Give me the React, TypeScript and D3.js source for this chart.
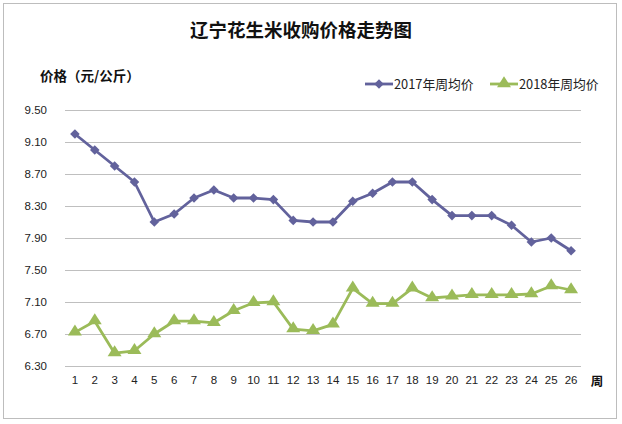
import React, { useEffect, useRef } from "react";
import * as d3 from "d3";

// week numbers 1..26
const weeks = [
  "1", "2", "3", "4", "5", "6", "7", "8", "9", "10", "11", "12", "13",
  "14", "15", "16", "17", "18", "19", "20", "21", "22", "23", "24", "25", "26",
];

const price2017 = [
  9.2, 9.0, 8.8, 8.6, 8.1, 8.2, 8.4, 8.5, 8.4, 8.4, 8.38, 8.12, 8.1,
  8.1, 8.36, 8.46, 8.6, 8.6, 8.38, 8.18, 8.18, 8.18, 8.06, 7.85, 7.9, 7.74,
];

const price2018 = [
  6.72, 6.86, 6.46, 6.49, 6.7, 6.86, 6.86, 6.84, 6.99, 7.09, 7.1, 6.76, 6.74,
  6.82, 7.27, 7.08, 7.08, 7.27, 7.15, 7.17, 7.19, 7.19, 7.19, 7.2, 7.3, 7.25,
];

const yTicks = [6.3, 6.7, 7.1, 7.5, 7.9, 8.3, 8.7, 9.1, 9.5];

const seriesNames = ["2017年周均价", "2018年周均价"];
const seriesColors = ["#62629c", "#9bbb59"];

const App: React.FC = () => {
  const ref = useRef<SVGSVGElement>(null);

  useEffect(() => {
    const svg = d3.select(ref.current);
    svg.selectAll("*").remove();

    const plot = { left: 65, right: 581, top: 110, bottom: 366 };

    svg
      .append("rect")
      .attr("x", 3.5)
      .attr("y", 3.5)
      .attr("width", 613)
      .attr("height", 415)
      .attr("fill", "#fff")
      .attr("stroke", "#bdbdbd")
      .attr("stroke-width", 1);

    const x = d3
      .scaleBand()
      .domain(weeks)
      .range([plot.left, plot.right]);

    const y = d3
      .scaleLinear()
      .domain([6.3, 9.5])
      .range([plot.bottom, plot.top]);

    const cx = (d: string) => x(d)! + x.bandwidth() / 2;

    // gridlines + y labels
    const yAxis = svg
      .append("g")
      .attr("transform", `translate(${plot.left},0)`)
      .call(
        d3
          .axisLeft(y)
          .tickValues(yTicks)
          .tickSize(-(plot.right - plot.left))
          .tickPadding(18)
          .tickFormat((d) => (d as number).toFixed(2))
      );
    yAxis.select(".domain").remove();
    yAxis.selectAll(".tick line").attr("stroke", "#bfbfbf").attr("stroke-width", 1.2);
    yAxis
      .selectAll(".tick text")
      .attr("fill", "#222")
      .style("font-family", "'Liberation Sans', sans-serif")
      .style("font-size", "11.5px");

    // x labels
    const xAxis = svg
      .append("g")
      .attr("transform", `translate(0,${plot.bottom})`)
      .call(d3.axisBottom(x).tickSize(0).tickPadding(10));
    xAxis.select(".domain").remove();
    xAxis
      .selectAll(".tick text")
      .attr("fill", "#222")
      .style("font-family", "'Liberation Sans', sans-serif")
      .style("font-size", "11.5px");

    svg
      .append("text")
      .attr("x", 597)
      .attr("y", 386)
      .attr("text-anchor", "middle")
      .style("font-family", "'Noto Sans CJK SC', sans-serif")
      .style("font-size", "12.5px")
      .style("font-weight", "bold")
      .attr("fill", "#111")
      .text("周");

    const line = d3
      .line<number>()
      .x((_d, i) => cx(weeks[i]))
      .y((d) => y(d));

    const diamond = d3.symbol().type(d3.symbolSquare).size(46);
    const triangle = d3.symbol().type(d3.symbolTriangle).size(70);

    [price2017, price2018].forEach((vals, si) => {
      svg
        .append("path")
        .datum(vals)
        .attr("d", line)
        .attr("fill", "none")
        .attr("stroke", seriesColors[si])
        .attr("stroke-width", 2.8)
        .attr("stroke-linejoin", "round");

      svg
        .selectAll(`.m${si}`)
        .data(vals)
        .enter()
        .append("path")
        .attr("class", `m${si}`)
        .attr("d", si === 0 ? diamond() : triangle())
        .attr("transform", (d, i) =>
          si === 0
            ? `translate(${cx(weeks[i])},${y(d)}) rotate(45)`
            : `translate(${cx(weeks[i])},${y(d) - 0.5}) scale(1.1,1)`
        )
        .attr("fill", seriesColors[si]);
    });

    // title
    svg
      .append("text")
      .attr("x", 301)
      .attr("y", 37)
      .attr("text-anchor", "middle")
      .style("font-family", "'Noto Sans CJK SC', sans-serif")
      .style("font-size", "18.5px")
      .style("font-weight", "bold")
      .attr("fill", "#111")
      .text("辽宁花生米收购价格走势图");

    // y axis title
    svg
      .append("text")
      .attr("x", 40)
      .attr("y", 81)
      .style("font-family", "'Noto Sans CJK SC', sans-serif")
      .style("font-size", "13.5px")
      .style("font-weight", "bold")
      .attr("fill", "#111")
      .text("价格（元/公斤）");

    // legend
    const legendX = [365, 490];
    seriesNames.forEach((name, si) => {
      const g = svg.append("g").attr("transform", `translate(${legendX[si]},84)`);
      g.append("line")
        .attr("x1", 0)
        .attr("x2", 28)
        .attr("stroke", seriesColors[si])
        .attr("stroke-width", 2.8);
      g.append("path")
        .attr("d", si === 0 ? diamond() : triangle())
        .attr("transform", si === 0 ? "translate(14,0) rotate(45)" : "translate(14,-0.5) scale(1.1,1)")
        .attr("fill", seriesColors[si]);
      g.append("text")
        .attr("x", 29)
        .attr("y", 4.5)
        .style("font-family", "'Noto Sans CJK SC', sans-serif")
        .style("font-size", "12.8px")
        .attr("fill", "#222")
        .text(name);
    });
  }, []);

  return (
    <svg
      ref={ref}
      width={622}
      height={424}
      style={{ position: "absolute", left: 0, top: 0, background: "#fff" }}
    />
  );
};

export default App;
